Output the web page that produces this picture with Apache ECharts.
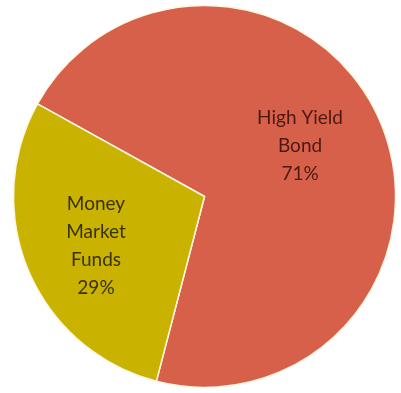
<!DOCTYPE html>
<html>
<head>
<meta charset="utf-8">
<script src="https://cdn.jsdelivr.net/npm/echarts@6/dist/echarts.min.js"></script>
<style>
  html, body { margin: 0; padding: 0; background: #ffffff; }
  #chart { width: 401px; height: 393px; }
</style>
</head>
<body>
<div id="chart"></div>
<script>
// Portfolio allocation by asset class (percent)
const categories = ['High Yield\nBond', 'Money\nMarket\nFunds'];
const shares = [71, 29];

// Slice fills and label colours, in category order
const sliceColors = ['#D6604A', '#C9B300'];
const labelColors = ['#4a1a12', '#3a3100'];
// Nudges for the in-slice labels
const labelOffsets = [[5, -12], [-18, 11]];

const chart = echarts.init(document.getElementById('chart'), null, { renderer: 'canvas' });

chart.setOption({
  backgroundColor: '#ffffff',
  animation: false,
  series: [{
    type: 'pie',
    center: ['51%', '50%'],
    radius: 191,
    startAngle: 151,
    clockwise: true,
    avoidLabelOverlap: false,
    itemStyle: { borderColor: '#fdf6e0', borderWidth: 1.5 },
    label: {
      show: true,
      position: 'inside',
      fontFamily: 'Lato',
      fontSize: 19,
      lineHeight: 28,
      align: 'center',
      formatter: p => p.name + '\n' + p.value + '%'
    },
    labelLine: { show: false },
    emphasis: { disabled: true },
    data: categories.map((name, i) => ({
      name,
      value: shares[i],
      itemStyle: { color: sliceColors[i] },
      label: { color: labelColors[i], offset: labelOffsets[i] }
    }))
  }]
});
</script>
</body>
</html>
